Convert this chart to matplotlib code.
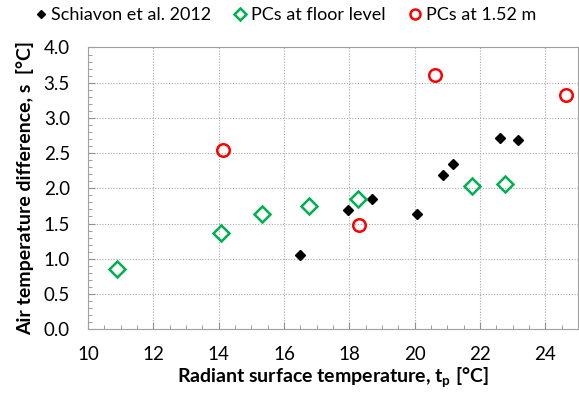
import matplotlib
matplotlib.use('Agg')
import matplotlib.pyplot as plt
from matplotlib.ticker import MultipleLocator, FormatStrFormatter

plt.rcParams['font.family'] = ['Lato', 'DejaVu Sans']

# Schiavon et al. 2012
schiavon_t = [16.48, 17.95, 18.71, 20.07, 20.86, 21.19, 22.61, 23.16]
schiavon_s = [1.06, 1.69, 1.85, 1.64, 2.19, 2.34, 2.71, 2.68]

# PCs at floor level
floor_t = [10.90, 14.07, 15.34, 16.76, 18.28, 21.77, 22.77]
floor_s = [0.85, 1.36, 1.63, 1.75, 1.845, 2.03, 2.06]

# PCs at 1.52 m
high_t = [14.12, 18.31, 20.64, 24.64]
high_s = [2.54, 1.476, 3.61, 3.33]

fig = plt.figure(figsize=(5.79, 3.99), dpi=100)
ax = fig.add_axes([0.152, 0.175, 0.846, 0.706])

ax.plot(schiavon_t, schiavon_s, 'D', color='black', ms=5.5, ls='none',
        label='Schiavon et al. 2012')
ax.plot(floor_t, floor_s, 'D', mfc='none', mec='#00B050', mew=1.8, ms=8,
        ls='none', label='PCs at floor level')
ax.plot(high_t, high_s, 'o', mfc='none', mec='#FF0000', mew=1.8, ms=9,
        ls='none', label='PCs at 1.52 m')

ax.set_xlim(10, 25)
ax.set_ylim(0, 4.0)
ax.xaxis.set_major_locator(MultipleLocator(2))
ax.xaxis.set_minor_locator(MultipleLocator(0.5))
ax.yaxis.set_major_locator(MultipleLocator(0.5))
ax.yaxis.set_minor_locator(MultipleLocator(0.1))
ax.yaxis.set_major_formatter(FormatStrFormatter('%.1f'))

ax.grid(True, which='major', color='#a8a8a8', ls=(0, (1, 1.5)), lw=0.8)
ax.set_axisbelow(True)
for s in ax.spines.values():
    s.set_color('#a0a0a0')
ax.tick_params(which='both', direction='in', color='#909090',
               labelsize=13.5, top=False, right=False)
ax.tick_params(which='major', length=5)
ax.tick_params(which='minor', length=3)
ax.tick_params(axis='x', pad=12)
ax.tick_params(axis='y', pad=13)

ax.set_xlabel('Radiant surface temperature, t$_\\mathregular{p}$ [°C]',
              fontsize=14, fontweight='bold', labelpad=2)
ax.set_ylabel('Air temperature difference, s  [°C]',
              fontsize=14, fontweight='bold', labelpad=7)

fig.legend(loc='center', bbox_to_anchor=(0.49, 0.962), ncol=3, frameon=False,
           fontsize=13, handletextpad=0.1, columnspacing=1.1,
           handlelength=1.0, markerscale=0.8)

fig.savefig('out.png', dpi=100)
